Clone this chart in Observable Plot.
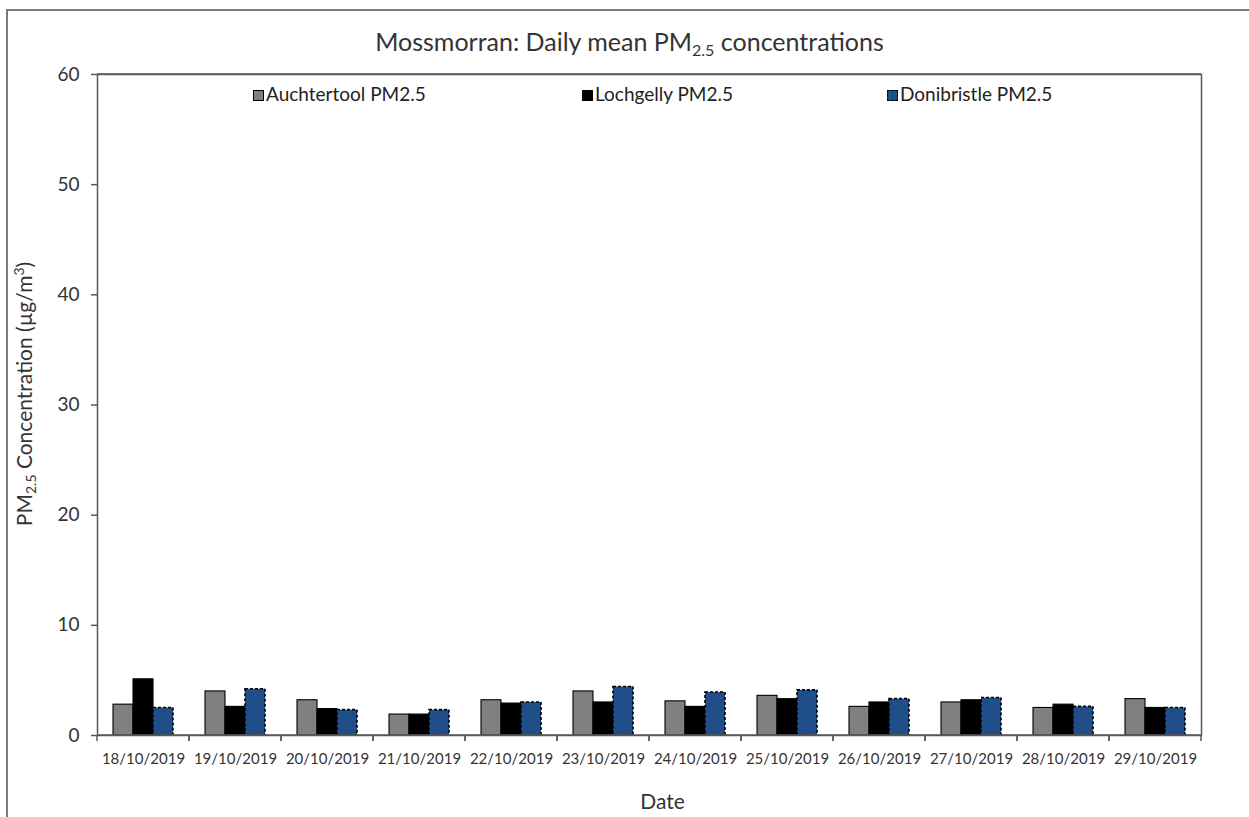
<!DOCTYPE html>
<html>
<head>
<meta charset="utf-8">
<script src="https://cdn.jsdelivr.net/npm/d3@7"></script>
<script src="https://cdn.jsdelivr.net/npm/@observablehq/plot@0.6"></script>
<style>
  html, body { margin: 0; padding: 0; background: #fff; }
  #wrap { position: relative; width: 1249px; height: 817px; overflow: hidden; font-family: Lato, "Liberation Sans", sans-serif; color: #404040; }
  #wrap svg { position: absolute; left: 0; top: 0; }
  .border { position: absolute; left: 6px; top: 9px; width: 1300px; height: 900px; border-left: 2px solid #7a7a7a; border-top: 2px solid #7a7a7a; }
  .title { position: absolute; left: 0; width: 1259px; top: 26px; text-align: center; font-size: 25px; line-height: 30px; color: #333; }
  .title sub { font-size: 16px; vertical-align: -5px; line-height: 0; }
  .ylab { position: absolute; left: 24px; top: 394px; transform: translate(-50%, -50%) rotate(-90deg); white-space: nowrap; font-size: 21px; line-height: 26px; color: #333; }
  .ylab sub { font-size: 14px; vertical-align: -4px; line-height: 0; }
  .ylab sup { font-size: 14px; vertical-align: 8px; line-height: 0; }
  .leg { position: absolute; top: 82px; font-size: 19px; line-height: 24px; color: #222; white-space: nowrap; }
  .sw { display: inline-block; width: 11px; height: 11px; margin-right: 2px; vertical-align: 0px; box-sizing: border-box; }
</style>
</head>
<body>
<div id="wrap">
  <div class="border"></div>
  <div class="title">Mossmorran: Daily mean PM<sub>2.5</sub> concentrations</div>
  <div class="ylab">PM<sub>2.5</sub> Concentration (µg/m<sup>3</sup>)</div>
  <div id="legend"></div>
</div>
<script>
const dates = ["18/10/2019","19/10/2019","20/10/2019","21/10/2019","22/10/2019","23/10/2019",
               "24/10/2019","25/10/2019","26/10/2019","27/10/2019","28/10/2019","29/10/2019"];
const series = ["Auchtertool PM2.5", "Lochgelly PM2.5", "Donibristle PM2.5"];
const auchtertool = [2.8, 4.0, 3.2, 1.9, 3.2, 4.0, 3.1, 3.6, 2.6, 3.0, 2.5, 3.3];
const lochgelly   = [5.1, 2.6, 2.4, 1.9, 2.9, 3.0, 2.6, 3.3, 3.0, 3.2, 2.8, 2.5];
const donibristle = [2.5, 4.2, 2.3, 2.3, 3.0, 4.4, 3.9, 4.1, 3.3, 3.4, 2.6, 2.5];
const yTicks = [0, 10, 20, 30, 40, 50, 60];
const colors = ["#808080", "#000000", "#1F4E89"];
const legendX = [253, 582, 887];

const values = [auchtertool, lochgelly, donibristle];
const data = [];
dates.forEach((d, i) => series.forEach((s, j) => data.push({date: d, series: s, value: values[j][i]})));

const bar = (s, extra) => Plot.barY(data.filter(r => r.series === s), {
  fx: "date", x: "series", y: "value",
  fill: colors[series.indexOf(s)], stroke: "#000", strokeWidth: 1.1, ...extra
});

// per-facet: top & bottom edges of the frame plus the category boundary ticks
const facetEdges = (index, scales, vals, dims) => {
  const x0 = dims.marginLeft, y0 = dims.marginTop, y1 = dims.height - dims.marginBottom;
  const bw = scales.fx && scales.fx.bandwidth ? scales.fx.bandwidth()
    : (dims.width - dims.marginLeft - dims.marginRight) / dates.length;
  const g = d3.create("svg:g").attr("fill", "none").attr("stroke", "#595959").attr("stroke-width", 1.5);
  [y0, y1].forEach(y => g.append("line").attr("x1", x0).attr("x2", x0 + bw).attr("y1", y).attr("y2", y));
  [x0, x0 + bw].forEach(b => g.append("line").attr("x1", b).attr("x2", b).attr("y1", y1).attr("y2", y1 + 6));
  return g.node();
};

const chart = Plot.plot({
  width: 1249, height: 817,
  marginLeft: 96, marginRight: 47, marginTop: 74, marginBottom: 82,
  style: {fontFamily: "Lato, 'Liberation Sans', sans-serif", color: "#333", background: "transparent"},
  fx: {domain: dates, padding: 0},
  x: {domain: series, paddingInner: 0, paddingOuter: 0.75, axis: null},
  y: {domain: [0, 60]},
  marks: [
    bar(series[0]),
    bar(series[1]),
    bar(series[2], {strokeDasharray: "3,2", strokeWidth: 1.6}),
    facetEdges,
    Plot.frame({facet: "super", stroke: "#595959", strokeWidth: 1.5}),
    Plot.axisY({ticks: yTicks, tickSize: 6, tickPadding: 12, label: null, fontSize: 19, stroke: "#595959", strokeWidth: 1.5}),
    Plot.axisFx({anchor: "bottom", tickSize: 0, tickPadding: 18, fontSize: 15, label: null}),
    Plot.text(["Date"], {frameAnchor: "bottom", facet: "super", dy: 73, dx: 13, fontSize: 21, fill: "#333"})
  ]
});
document.getElementById("wrap").prepend(chart);

const leg = document.getElementById("legend");
series.forEach((s, j) => {
  const div = document.createElement("div");
  div.className = "leg";
  div.style.left = legendX[j] + "px";
  const sw = document.createElement("span");
  sw.className = "sw";
  sw.style.background = colors[j];
  sw.style.border = j === 2 ? "1.5px dashed #000" : "1.2px solid #000";
  div.appendChild(sw);
  div.appendChild(document.createTextNode(s));
  leg.appendChild(div);
});
</script>
</body>
</html>
